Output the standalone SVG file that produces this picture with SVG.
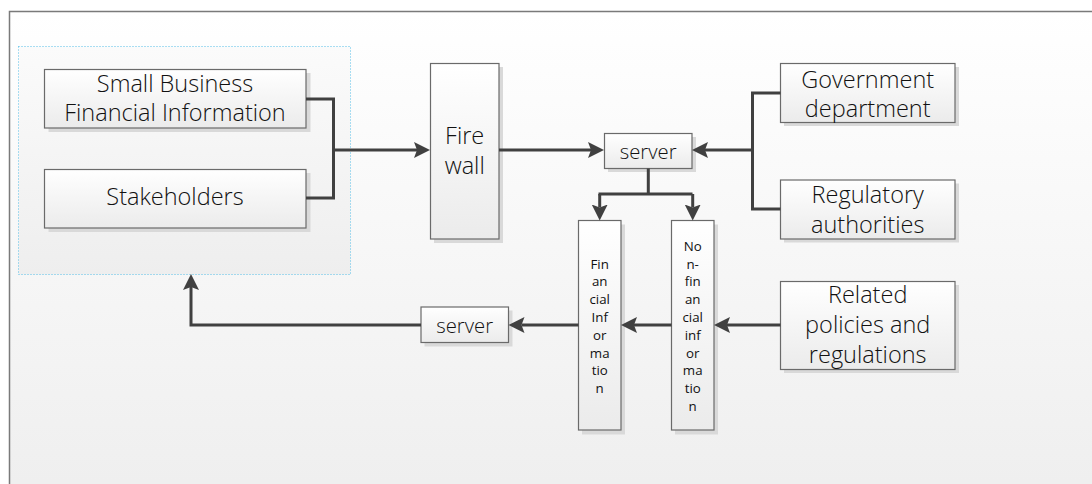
<svg xmlns="http://www.w3.org/2000/svg" width="1092" height="484" viewBox="0 0 1092 484">
<defs>
  <linearGradient id="bg" x1="0" y1="0" x2="0" y2="1">
    <stop offset="0" stop-color="#ffffff"/>
    <stop offset="1" stop-color="#eeeeee"/>
  </linearGradient>
  <linearGradient id="boxfill" x1="0" y1="0" x2="0" y2="1">
    <stop offset="0" stop-color="#ffffff"/>
    <stop offset="1" stop-color="#ebebeb"/>
  </linearGradient>
  <linearGradient id="grpfill" x1="0" y1="0" x2="0" y2="1">
    <stop offset="0" stop-color="#fbfbfb"/>
    <stop offset="1" stop-color="#eeeeee"/>
  </linearGradient>
  <marker id="arr" markerUnits="userSpaceOnUse" markerWidth="20" markerHeight="20" viewBox="0 -10 20 20" refX="3" refY="0" orient="auto">
    <path d="M0,-8 L16,0 L0,8 L3,0 Z" fill="#404040"/>
  </marker>
</defs>
<style>
  .box { fill: url(#boxfill); stroke: #6a6a6a; stroke-width: 1.2; }
  .shadow { fill: #d9d9d9; }
  .t { font-family: "Open Sans", "Noto Sans", "Liberation Sans", sans-serif; font-weight: 300; fill: #111111; text-anchor: middle; }
  .big { font-size: 23.5px; }
  .mid { font-size: 20.3px; }
  .sm { font-size: 13.3px; font-weight: 400; }
  .con { fill: none; stroke: #404040; stroke-width: 3; }
  .arrow { marker-end: url(#arr); }
</style>
<rect x="0" y="0" width="1092" height="484" fill="#ffffff"/>
<rect x="9.5" y="11.5" width="1100" height="500" fill="url(#bg)" stroke="#7a7a7a" stroke-width="1.5"/>

<g id="group-left">
  <rect x="18.5" y="46.5" width="332" height="228" fill="url(#grpfill)" stroke="#55bfe8" stroke-width="1" stroke-dasharray="1 2"/>
</g>

<g id="node-sbfi">
  <rect class="shadow" x="48.5" y="73" width="262" height="59"/>
  <rect class="box" x="44.5" y="69.5" width="261.5" height="58.5"/>
  <text class="t big" x="175" y="92">Small Business</text>
  <text class="t big" x="175" y="121">Financial Information</text>
</g>

<g id="node-stakeholders">
  <rect class="shadow" x="48.5" y="173" width="262" height="59"/>
  <rect class="box" x="44.5" y="169.5" width="261.5" height="58.5"/>
  <text class="t big" x="175" y="205">Stakeholders</text>
</g>

<g id="node-firewall">
  <rect class="shadow" x="434" y="67" width="69" height="176"/>
  <rect class="box" x="430.5" y="63.5" width="68.5" height="175.5"/>
  <text class="t big" x="464.7" y="144">Fire</text>
  <text class="t big" x="464.7" y="173.5">wall</text>
</g>

<g id="node-server1">
  <rect class="shadow" x="608" y="137" width="88" height="35"/>
  <rect class="box" x="604.5" y="133.5" width="87.5" height="35"/>
  <text class="t mid" x="648.2" y="159">server</text>
</g>

<g id="node-gov">
  <rect class="shadow" x="784" y="67" width="175" height="59"/>
  <rect class="box" x="780.5" y="63.5" width="174.5" height="59"/>
  <text class="t big" x="867.7" y="88">Government</text>
  <text class="t big" x="867.7" y="117">department</text>
</g>

<g id="node-reg">
  <rect class="shadow" x="784" y="183.5" width="175" height="59"/>
  <rect class="box" x="780.5" y="180" width="174.5" height="59"/>
  <text class="t big" x="867.7" y="203">Regulatory</text>
  <text class="t big" x="867.7" y="232.5">authorities</text>
</g>

<g id="node-related">
  <rect class="shadow" x="784" y="285" width="175" height="88"/>
  <rect class="box" x="780.5" y="281.5" width="174.5" height="88"/>
  <text class="t big" x="867.7" y="303">Related</text>
  <text class="t big" x="867.7" y="333">policies and</text>
  <text class="t big" x="867.7" y="362.5">regulations</text>
</g>

<g id="node-fin">
  <rect class="shadow" x="582" y="224.5" width="43" height="210"/>
  <rect class="box" x="578.5" y="220.5" width="42.5" height="209.5"/>
  <text class="t sm" x="599.7" y="268.5">Fin</text>
  <text class="t sm" x="599.7" y="286.3">an</text>
  <text class="t sm" x="599.7" y="304.1">cial</text>
  <text class="t sm" x="599.7" y="321.9">Inf</text>
  <text class="t sm" x="599.7" y="339.7">or</text>
  <text class="t sm" x="599.7" y="357.5">ma</text>
  <text class="t sm" x="599.7" y="375.3">tio</text>
  <text class="t sm" x="599.7" y="393.1">n</text>
</g>

<g id="node-nonfin">
  <rect class="shadow" x="675" y="224.5" width="43" height="210"/>
  <rect class="box" x="671.5" y="220.5" width="42.5" height="209.5"/>
  <text class="t sm" x="692.7" y="250.7">No</text>
  <text class="t sm" x="692.7" y="268.5">n-</text>
  <text class="t sm" x="692.7" y="286.3">fin</text>
  <text class="t sm" x="692.7" y="304.1">an</text>
  <text class="t sm" x="692.7" y="321.9">cial</text>
  <text class="t sm" x="692.7" y="339.7">inf</text>
  <text class="t sm" x="692.7" y="357.5">or</text>
  <text class="t sm" x="692.7" y="375.3">ma</text>
  <text class="t sm" x="692.7" y="393.1">tio</text>
  <text class="t sm" x="692.7" y="410.9">n</text>
</g>

<g id="node-server2">
  <rect class="shadow" x="424.5" y="310.5" width="88" height="36"/>
  <rect class="box" x="421" y="307" width="87.5" height="35.5"/>
  <text class="t mid" x="464.7" y="333">server</text>
</g>

<g id="connectors">
  <path class="con" d="M306,99 H333.5 V198 H306"/>
  <path class="con arrow" d="M333.5,150 H417"/>
  <path class="con arrow" d="M499,150 H591"/>
  <path class="con" d="M780.5,93 H752.5 V209 H780.5"/>
  <path class="con arrow" d="M752.5,150 H705"/>
  <path class="con" d="M648.3,168.5 V194 M598.5,194 H692.5"/>
  <path class="con arrow" d="M599.7,194 V207.5"/>
  <path class="con arrow" d="M692.7,194 V207.5"/>
  <path class="con arrow" d="M780.5,325 H727"/>
  <path class="con arrow" d="M671.5,325 H634"/>
  <path class="con arrow" d="M578.5,325 H521.5"/>
  <path class="con arrow" d="M421,325 H191 V287"/>
</g>
</svg>
